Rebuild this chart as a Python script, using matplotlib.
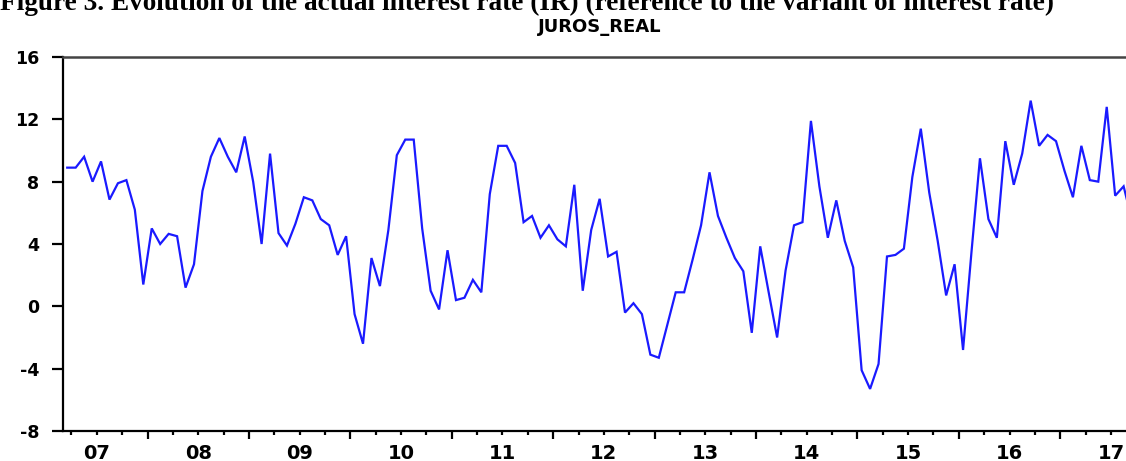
import numpy as np
import pandas as pd
import matplotlib
matplotlib.use("Agg")
import matplotlib.pyplot as plt
from matplotlib.ticker import FixedLocator, NullFormatter

# Monthly real interest rate, 2007M03 onwards
start_period = "2007-03"
juros_real = [
    8.9, 8.9, 9.6, 8.0, 9.3, 6.85, 7.9, 8.1, 6.2, 1.4,
    5.0, 4.0, 4.65, 4.5, 1.2, 2.7, 7.4, 9.6, 10.8, 9.6,
    8.6, 10.9, 8.0, 4.0, 9.8, 4.7, 3.9, 5.3, 7.0, 6.8,
    5.6, 5.2, 3.3, 4.5, -0.5, -2.4, 3.1, 1.3, 4.9, 9.7,
    10.7, 10.7, 5.0, 1.0, -0.2, 3.6, 0.4, 0.55, 1.7, 0.9,
    7.2, 10.3, 10.3, 9.2, 5.4, 5.8, 4.4, 5.2, 4.3, 3.85,
    7.8, 1.0, 4.9, 6.9, 3.2, 3.5, -0.4, 0.2, -0.5, -3.1,
    -3.3, -1.2, 0.9, 0.9, 3.0, 5.2, 8.6, 5.8, 4.4, 3.1,
    2.25, -1.7, 3.85, 0.9, -2.0, 2.3, 5.2, 5.4, 11.9, 7.7,
    4.4, 6.8, 4.2, 2.5, -4.1, -5.3, -3.7, 3.2, 3.3, 3.7,
    8.3, 11.4, 7.3, 4.2, 0.7, 2.7, -2.8, 3.5, 9.5, 5.6,
    4.4, 10.6, 7.8, 9.8, 13.2, 10.3, 11.0, 10.6, 8.7, 7.0,
    10.3, 8.1, 8.0, 12.8, 7.1, 7.7, 5.5,
]
years = list(range(2007, 2018))
year_labels = [f"{y % 100:02d}" for y in years]
y_ticks = [-8, -4, 0, 4, 8, 12, 16]

periods = pd.period_range(start=start_period, periods=len(juros_real), freq="M")
# place each month at the centre of its slot, in fractional years
x = np.array([p.year + (p.month - 1) / 12 + 1 / 24 for p in periods])
x_left = periods[0].year + (periods[0].month - 1) / 12
x_right = periods[-1].year + periods[-1].month / 12

W, H = 1126, 461
fig = plt.figure(figsize=(W / 100, H / 100), dpi=100)
fig.patch.set_facecolor("white")

ax_w = 1073.3
ax = fig.add_axes([63 / W, 30 / H, ax_w / W, 374 / H])
ax.plot(x, juros_real, color="#1a1aff", linewidth=1.6, solid_joinstyle="miter")

ax.set_xlim(x_left, x_right)
ax.set_ylim(-8, 16)

# spines
for side in ("left", "bottom"):
    ax.spines[side].set_linewidth(1.6)
    ax.spines[side].set_color("black")
ax.spines["top"].set_linewidth(1.8)
ax.spines["top"].set_color("#444444")
ax.spines["right"].set_linewidth(1.6)
ax.spines["right"].set_color("black")

# y axis
ax.set_yticks(y_ticks)
ax.set_yticklabels([str(v) for v in y_ticks])
ax.tick_params(axis="y", which="major", direction="out", length=8, width=1.6,
               pad=9, labelsize=12.5, right=False)

# x axis: long ticks at year boundaries, short ticks at quarters,
# labels centred inside each year
ax.xaxis.set_major_locator(FixedLocator(years))
ax.xaxis.set_major_formatter(NullFormatter())
quarters = [y + q / 4 for y in years for q in (1, 2, 3)]
ax.xaxis.set_minor_locator(FixedLocator(quarters))
ax.xaxis.set_minor_formatter(NullFormatter())
ax.tick_params(axis="x", which="major", direction="out", length=6, width=1.6, top=False)
ax.tick_params(axis="x", which="minor", direction="out", length=3, width=1.6, top=False)
for yr, lab in zip(years, year_labels):
    ax.text(yr + 0.5, -0.035, lab, transform=ax.get_xaxis_transform(),
            ha="center", va="top", fontsize=14, fontweight="bold",
            family="DejaVu Sans", clip_on=False)

for lab in ax.get_yticklabels():
    lab.set_fontweight("bold")
    lab.set_family("DejaVu Sans")

# series name above the plot
ax_center = (63 + ax_w / 2) / W
fig.text(ax_center, 1 - 32 / H, "JUROS_REAL", ha="center", va="baseline",
         fontsize=13, fontweight="bold", family="DejaVu Sans")

# figure caption
cap = fig.text(0.0, 1 - 10 / H,
               "Figure 3. Evolution of the actual interest rate (IR) (reference to the variant of interest rate)",
               ha="left", va="baseline", fontsize=16, fontweight="bold",
               family="Liberation Serif")
fig.canvas.draw()
w = cap.get_window_extent().width
cap.set_fontsize(16 * 1058 / w)

fig.savefig("out.png", dpi=100, facecolor="white")
